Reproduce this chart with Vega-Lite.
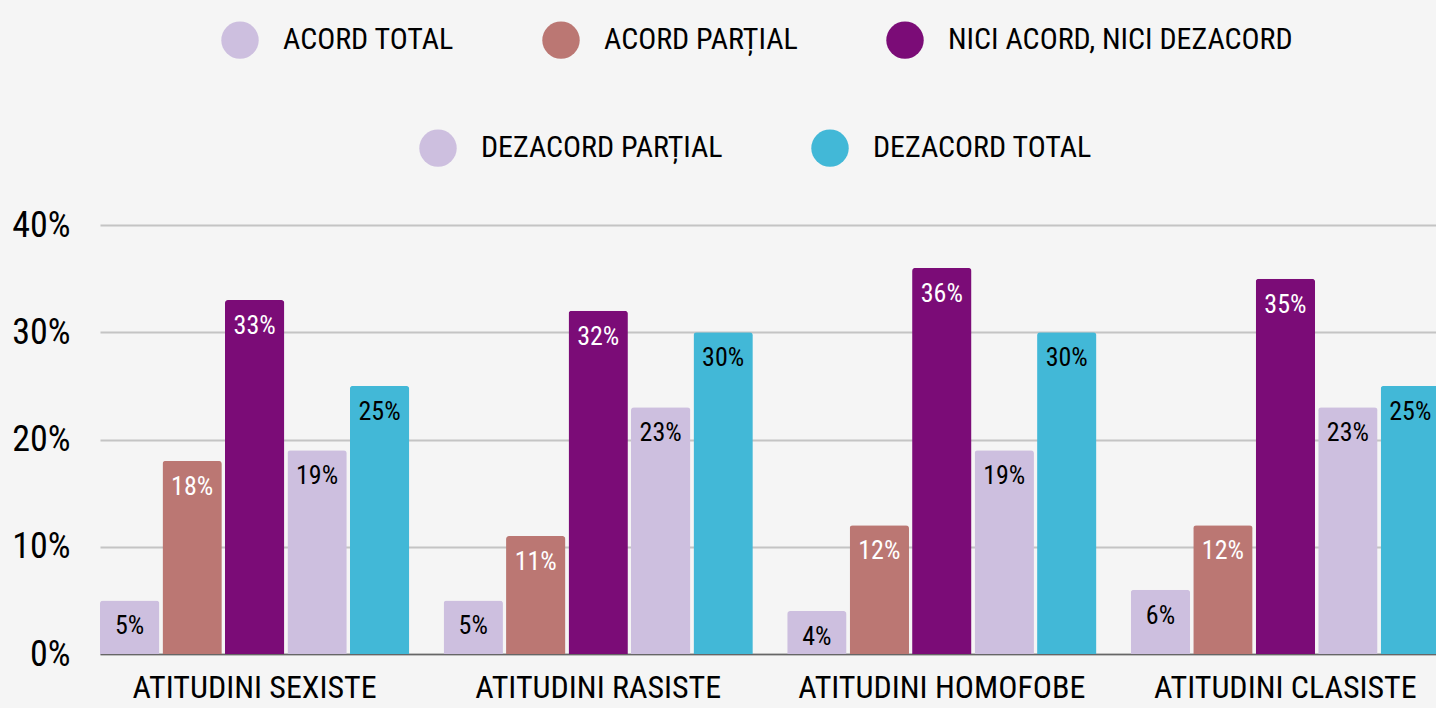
{
  "$schema": "https://vega.github.io/schema/vega-lite/v6.json",
  "width": 1340,
  "height": 429,
  "autosize": {"type": "none"},
  "padding": {"left": 100, "top": 225, "right": 0, "bottom": 54},
  "background": "#f5f5f5",
  "config": {
    "font": "Roboto Condensed",
    "view": {"stroke": null}
  },
  "data": {
    "values": [
      {"group": "ATITUDINI SEXISTE", "cat": "ACORD TOTAL", "value": 0.05},
      {"group": "ATITUDINI SEXISTE", "cat": "ACORD PARȚIAL", "value": 0.18},
      {"group": "ATITUDINI SEXISTE", "cat": "NICI ACORD, NICI DEZACORD", "value": 0.33},
      {"group": "ATITUDINI SEXISTE", "cat": "DEZACORD PARȚIAL", "value": 0.19},
      {"group": "ATITUDINI SEXISTE", "cat": "DEZACORD TOTAL", "value": 0.25},
      {"group": "ATITUDINI RASISTE", "cat": "ACORD TOTAL", "value": 0.05},
      {"group": "ATITUDINI RASISTE", "cat": "ACORD PARȚIAL", "value": 0.11},
      {"group": "ATITUDINI RASISTE", "cat": "NICI ACORD, NICI DEZACORD", "value": 0.32},
      {"group": "ATITUDINI RASISTE", "cat": "DEZACORD PARȚIAL", "value": 0.23},
      {"group": "ATITUDINI RASISTE", "cat": "DEZACORD TOTAL", "value": 0.30},
      {"group": "ATITUDINI HOMOFOBE", "cat": "ACORD TOTAL", "value": 0.04},
      {"group": "ATITUDINI HOMOFOBE", "cat": "ACORD PARȚIAL", "value": 0.12},
      {"group": "ATITUDINI HOMOFOBE", "cat": "NICI ACORD, NICI DEZACORD", "value": 0.36},
      {"group": "ATITUDINI HOMOFOBE", "cat": "DEZACORD PARȚIAL", "value": 0.19},
      {"group": "ATITUDINI HOMOFOBE", "cat": "DEZACORD TOTAL", "value": 0.30},
      {"group": "ATITUDINI CLASISTE", "cat": "ACORD TOTAL", "value": 0.06},
      {"group": "ATITUDINI CLASISTE", "cat": "ACORD PARȚIAL", "value": 0.12},
      {"group": "ATITUDINI CLASISTE", "cat": "NICI ACORD, NICI DEZACORD", "value": 0.35},
      {"group": "ATITUDINI CLASISTE", "cat": "DEZACORD PARȚIAL", "value": 0.23},
      {"group": "ATITUDINI CLASISTE", "cat": "DEZACORD TOTAL", "value": 0.25}
    ]
  },
  "encoding": {
    "x": {
      "field": "group",
      "type": "nominal",
      "sort": ["ATITUDINI SEXISTE", "ATITUDINI RASISTE", "ATITUDINI HOMOFOBE", "ATITUDINI CLASISTE"],
      "scale": {"paddingInner": 0.1, "paddingOuter": 0},
      "axis": {
        "title": null,
        "labelAngle": 0,
        "labelFont": "Roboto Condensed",
        "labelFontSize": 32,
        "labelColor": "#000000",
        "labelPadding": 18,
        "labelLimit": 500,
        "ticks": false,
        "domain": true,
        "domainColor": "#666666",
        "domainWidth": 1.5,
        "grid": false
      }
    },
    "xOffset": {
      "field": "cat",
      "type": "nominal",
      "scale": {
        "domain": ["ACORD TOTAL", "ACORD PARȚIAL", "NICI ACORD, NICI DEZACORD", "DEZACORD PARȚIAL", "DEZACORD TOTAL"],
        "paddingInner": 0.05,
        "paddingOuter": 0
      }
    },
    "y": {
      "field": "value",
      "type": "quantitative",
      "scale": {"domain": [0, 0.4]},
      "axis": {
        "title": null,
        "values": [0, 0.1, 0.2, 0.3, 0.4],
        "format": ".0%",
        "labelFont": "Roboto Condensed",
        "labelFontSize": 36,
        "labelColor": "#000000",
        "labelPadding": 30,
        "ticks": false,
        "domain": false,
        "grid": true,
        "gridColor": "#c4c4c4",
        "gridWidth": 2
      }
    }
  },
  "layer": [
    {
      "transform": [{"filter": {"field": "cat", "oneOf": ["ACORD TOTAL", "ACORD PARȚIAL", "NICI ACORD, NICI DEZACORD"]}}],
      "mark": {"type": "bar", "cornerRadiusTopLeft": 3, "cornerRadiusTopRight": 3},
      "encoding": {
        "color": {
          "field": "cat",
          "type": "nominal",
          "scale": {
            "domain": ["ACORD TOTAL", "ACORD PARȚIAL", "NICI ACORD, NICI DEZACORD"],
            "range": ["#cdbfdf", "#bb7773", "#7b0c77"]
          },
          "legend": {
            "title": null,
            "orient": "none",
            "direction": "horizontal",
            "legendX": 121,
            "legendY": -204,
            "symbolType": "circle",
            "symbolSize": 1400,
            "symbolStrokeWidth": 0,
            "symbolOpacity": 1,
            "labelFont": "Roboto Condensed",
            "labelFontSize": 30,
            "labelColor": "#000000",
            "labelOffset": 24,
            "columnPadding": 88,
            "labelLimit": 600
          }
        }
      }
    },
    {
      "transform": [{"filter": {"field": "cat", "oneOf": ["DEZACORD PARȚIAL", "DEZACORD TOTAL"]}}],
      "mark": {"type": "bar", "cornerRadiusTopLeft": 3, "cornerRadiusTopRight": 3},
      "encoding": {
        "fill": {
          "field": "cat",
          "type": "nominal",
          "scale": {
            "domain": ["DEZACORD PARȚIAL", "DEZACORD TOTAL"],
            "range": ["#cdbfdf", "#42b8d7"]
          },
          "legend": {
            "title": null,
            "orient": "none",
            "direction": "horizontal",
            "legendX": 319,
            "legendY": -96,
            "symbolType": "circle",
            "symbolSize": 1400,
            "symbolStrokeWidth": 0,
            "symbolOpacity": 1,
            "labelFont": "Roboto Condensed",
            "labelFontSize": 30,
            "labelColor": "#000000",
            "labelOffset": 24,
            "columnPadding": 88,
            "labelLimit": 600
          }
        }
      }
    },
    {
      "transform": [{"filter": {"field": "cat", "oneOf": ["ACORD PARȚIAL", "NICI ACORD, NICI DEZACORD"]}}],
      "mark": {"type": "text", "baseline": "middle", "dy": 26, "fontSize": 26, "color": "#ffffff", "font": "Roboto Condensed"},
      "encoding": {"text": {"field": "value", "type": "quantitative", "format": ".0%"}}
    },
    {
      "transform": [{"filter": {"field": "cat", "oneOf": ["ACORD TOTAL", "DEZACORD PARȚIAL", "DEZACORD TOTAL"]}}],
      "mark": {"type": "text", "baseline": "middle", "dy": 26, "fontSize": 26, "color": "#000000", "font": "Roboto Condensed"},
      "encoding": {"text": {"field": "value", "type": "quantitative", "format": ".0%"}}
    }
  ]
}
